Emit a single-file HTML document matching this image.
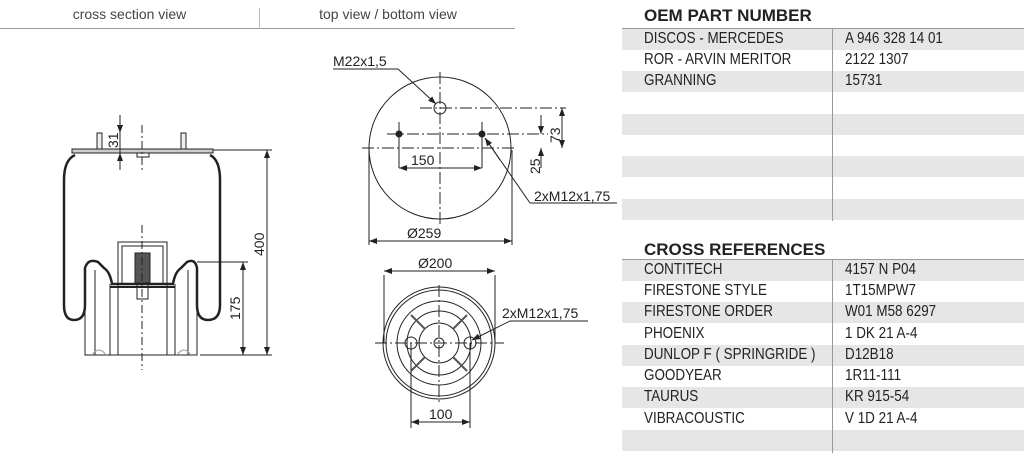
<!DOCTYPE html>
<html><head><meta charset="utf-8"><style>
html,body{margin:0;padding:0;background:#fff;width:1024px;height:453px;overflow:hidden;font-family:"Liberation Sans",sans-serif}
.t{position:absolute;font-family:"Liberation Sans",sans-serif}
.row{position:absolute;left:622px;width:402px;height:21px;font-size:16px;color:#222}
.row span{position:absolute;top:1px;transform:scaleX(0.84);transform-origin:0 0;white-space:nowrap}
.g{background:#e6e6e6}
</style></head><body>
<div class="t" style="left:0;top:6px;width:259px;text-align:center;font-size:14px;color:#444">cross section view</div>
<div class="t" style="left:259px;top:6px;width:258px;text-align:center;font-size:14px;color:#444">top view / bottom view</div>
<div style="position:absolute;left:0;top:28px;width:515px;height:1px;background:#999"></div>
<div style="position:absolute;left:259px;top:8px;width:1px;height:21px;background:#bbb"></div>

<div class="t" style="left:644px;top:6px;font-size:17px;font-weight:bold;color:#222">OEM PART NUMBER</div>
<div style="position:absolute;left:622px;top:28px;width:402px;height:1px;background:#999"></div>
<div class="row g" style="top:29px"><span style="left:22px">DISCOS - MERCEDES</span><span style="left:223px">A 946 328 14 01</span></div>
<div class="row" style="top:50px"><span style="left:22px">ROR - ARVIN MERITOR</span><span style="left:223px">2122 1307</span></div>
<div class="row g" style="top:71px"><span style="left:22px">GRANNING</span><span style="left:223px">15731</span></div>
<div class="row" style="top:92px"></div>
<div class="row g" style="top:114px"></div>
<div class="row" style="top:135px"></div>
<div class="row g" style="top:156px"></div>
<div class="row" style="top:178px"></div>
<div class="row g" style="top:199px"></div>
<div style="position:absolute;left:832px;top:29px;width:1px;height:192px;background:#999"></div>

<div class="t" style="left:644px;top:240px;font-size:17px;font-weight:bold;color:#222">CROSS REFERENCES</div>
<div style="position:absolute;left:622px;top:259px;width:402px;height:1px;background:#999"></div>
<div class="row g" style="top:260px"><span style="left:22px">CONTITECH</span><span style="left:223px">4157 N P04</span></div>
<div class="row" style="top:281px"><span style="left:22px">FIRESTONE STYLE</span><span style="left:223px">1T15MPW7</span></div>
<div class="row g" style="top:302px"><span style="left:22px">FIRESTONE ORDER</span><span style="left:223px">W01 M58 6297</span></div>
<div class="row" style="top:324px"><span style="left:22px">PHOENIX</span><span style="left:223px">1 DK 21 A-4</span></div>
<div class="row g" style="top:345px"><span style="left:22px">DUNLOP F ( SPRINGRIDE )</span><span style="left:223px">D12B18</span></div>
<div class="row" style="top:366px"><span style="left:22px">GOODYEAR</span><span style="left:223px">1R11-111</span></div>
<div class="row g" style="top:387px"><span style="left:22px">TAURUS</span><span style="left:223px">KR 915-54</span></div>
<div class="row" style="top:409px"><span style="left:22px">VIBRACOUSTIC</span><span style="left:223px">V 1D 21 A-4</span></div>
<div class="row g" style="top:430px"></div>
<div style="position:absolute;left:832px;top:260px;width:1px;height:193px;background:#999"></div>

<svg width="620" height="453" style="position:absolute;left:0;top:0" font-family="Liberation Sans, sans-serif">
<defs><marker id="a" markerWidth="8" markerHeight="6" refX="8" refY="3" orient="auto-start-reverse"><path d="M0,0 L8,3 L0,6z" fill="#222"/></marker></defs>
<g stroke="#222" fill="none" stroke-width="1">
<rect x="72" y="149" width="141" height="4" fill="#ccc"/>
<rect x="97" y="133" width="5" height="16" fill="#eee"/>
<rect x="181" y="133" width="5" height="16" fill="#eee"/>
<rect x="137" y="153" width="12" height="4"/>
<path d="M75,155 Q64,160 64,180 L64,305 Q64,320 74,320 Q85,320 85,305" stroke-width="2.5"/>
<path d="M210,155 Q220,160 220,180 L220,305 Q220,320 208,320 Q197,320 197,305" stroke-width="2.5"/>
<path d="M85,305 L85,268 Q88,258 98,262 L104,268 Q110,272 112,284 L173,284 Q175,272 181,268 L187,262 Q195,258 197,268 L197,305" stroke-width="2.5"/>
<path d="M85,270 L85,355 L197,355 L197,270"/>
<path d="M95,270 L95,355 M188,270 L188,355"/>
<path d="M110,284 L110,355 M118,287 L118,355 M167,287 L167,355 M175,284 L175,355"/>
<path d="M110,287 L175,287" stroke-width="2"/>
<rect x="118" y="242" width="49" height="45"/>
<rect x="122" y="246" width="41" height="38"/>
<rect x="135" y="253" width="15" height="30" fill="#555"/>
<rect x="137" y="283" width="11" height="16"/>
<path d="M92,355 Q99,345 106,355 M177,355 Q184,345 191,355" stroke="#999"/>
<path d="M142,125 L142,170 M142,225 L142,370" stroke-dasharray="8,3,2,3"/>
<path d="M213,150 L272,150 M197,262 L248,262 M200,355 L272,355"/>
<path d="M267,150 L267,355" marker-start="url(#a)" marker-end="url(#a)"/>
<path d="M243,262 L243,355" marker-start="url(#a)" marker-end="url(#a)"/>
<path d="M120,115 L120,133" marker-end="url(#a)"/><path d="M120,170 L120,153" marker-end="url(#a)"/>
<path d="M120,133 L120,153"/>
<circle cx="440" cy="148" r="71"/>
<circle cx="440" cy="108" r="6"/>
<path d="M440,72 L440,225 M362,148 L517,148 M420,108 L566,108 M387,134 L548,134" stroke-dasharray="12,3,2,3"/>
<path d="M399,122 L399,168 M482,122 L482,168"/>
<path d="M399,168 L482,168" marker-start="url(#a)" marker-end="url(#a)"/>
<path d="M369,150 L369,245 M512,150 L512,245"/>
<path d="M369,241 L512,241" marker-start="url(#a)" marker-end="url(#a)"/>
<path d="M562,108 L562,148" marker-start="url(#a)" marker-end="url(#a)"/>
<path d="M541,115 L541,134" marker-end="url(#a)"/><path d="M541,168 L541,148" marker-end="url(#a)"/>
<path d="M333,69 L398,69 L436,104" marker-end="url(#a)"/>
<path d="M530,203 L617,203 M530,203 L485,138"/><path d="M500,160 L485,138" marker-end="url(#a)"/>
<circle cx="439" cy="343" r="56"/><circle cx="439" cy="343" r="53"/>
<circle cx="439" cy="343" r="42"/><circle cx="439" cy="343" r="32"/><circle cx="439" cy="343" r="20"/>
<circle cx="439" cy="343" r="5"/>
<path d="M411,315 L425,329 M467,315 L453,329 M411,371 L425,357 M467,371 L453,357" stroke-width="2" stroke="#555"/>
<circle cx="411" cy="343" r="6"/><circle cx="470" cy="343" r="6"/>
<path d="M375,343 L504,343 M439,285 L439,402" stroke-dasharray="12,3,2,3"/>
<path d="M384,275 L384,343 M495,275 L495,343"/>
<path d="M384,271 L495,271" marker-start="url(#a)" marker-end="url(#a)"/>
<path d="M411,343 L411,428 M470,343 L470,428"/>
<path d="M411,422 L470,422" marker-start="url(#a)" marker-end="url(#a)"/>
<path d="M588,321 L510,321 L472,340" marker-end="url(#a)"/>
</g>
<g fill="#222" font-size="14">
<circle cx="399" cy="134" r="3.5"/><circle cx="482" cy="134" r="3.5"/>
<text x="333" y="66">M22x1,5</text>
<text x="411" y="165">150</text>
<text x="534" y="201">2xM12x1,75</text>
<text x="407" y="238">Ø259</text>
<text x="418" y="268">Ø200</text>
<text x="502" y="318">2xM12x1,75</text>
<text x="429" y="419">100</text>
<text transform="translate(560,143) rotate(-90)">73</text>
<text transform="translate(540,174) rotate(-90)">25</text>
<text transform="translate(264,256) rotate(-90)">400</text>
<text transform="translate(240,320) rotate(-90)">175</text>
<text transform="translate(118,148) rotate(-90)">31</text>
</g>
</svg>
</body></html>
